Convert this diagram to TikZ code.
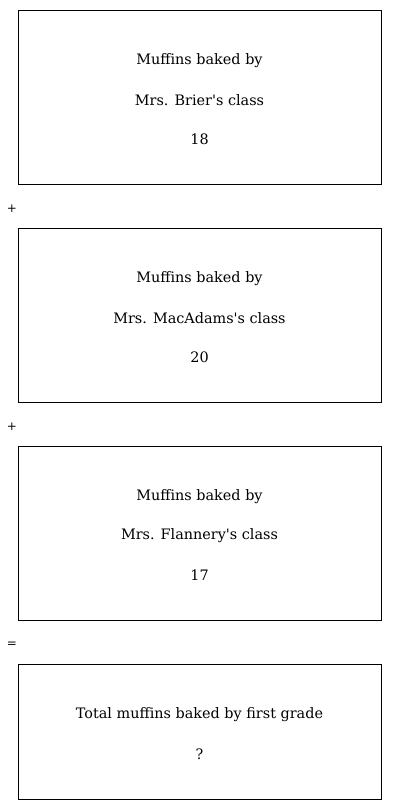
\documentclass[tikz,border=0pt]{standalone}
\usepackage{fontspec}
\setmainfont{DejaVu Serif}
\begin{document}
\begin{tikzpicture}[x=1pt, y=-1pt,
    box/.style={draw, line width=0.7pt, anchor=north west, minimum width=363pt, inner sep=0pt},
    lbl/.style={font=\fontsize{14.4}{17}\selectfont},
    sign/.style={font=\fontsize{12}{14}\selectfont}]
    \useasboundingbox (0,0) rectangle (400,810);
    % first class
    \node[box, minimum height=174pt] (brier) at (18,10) {};
    \node[lbl] (brierA) at (199.5,61) {Muffins baked by};
    \node[lbl] (brierB) at (199.5,100) {Mrs. Brier\textquotesingle s class};
    \node[lbl] (brierC) at (199.5,139) {18};
    \node[sign] (plusA) at (12,209) {+};
    % second class
    \node[box, minimum height=174pt] (macadams) at (18,228) {};
    \node[lbl] (macadamsA) at (199.5,279) {Muffins baked by};
    \node[lbl] (macadamsB) at (199.5,318) {Mrs. MacAdams\textquotesingle s class};
    \node[lbl] (macadamsC) at (199.5,357) {20};
    \node[sign] (plusB) at (12,427) {+};
    % third class
    \node[box, minimum height=174pt] (flannery) at (18,446) {};
    \node[lbl] (flanneryA) at (199.5,497) {Muffins baked by};
    \node[lbl] (flanneryB) at (199.5,536) {Mrs. Flannery\textquotesingle s class};
    \node[lbl] (flanneryC) at (199.5,575) {17};
    \node[sign] (equals) at (12,645) {=};
    % total
    \node[box, minimum height=135pt] (total) at (18,664) {};
    \node[lbl] (totalA) at (199.5,715) {Total muffins baked by first grade};
    \node[lbl] (totalB) at (199.5,754) {?};
\end{tikzpicture}
\end{document}
